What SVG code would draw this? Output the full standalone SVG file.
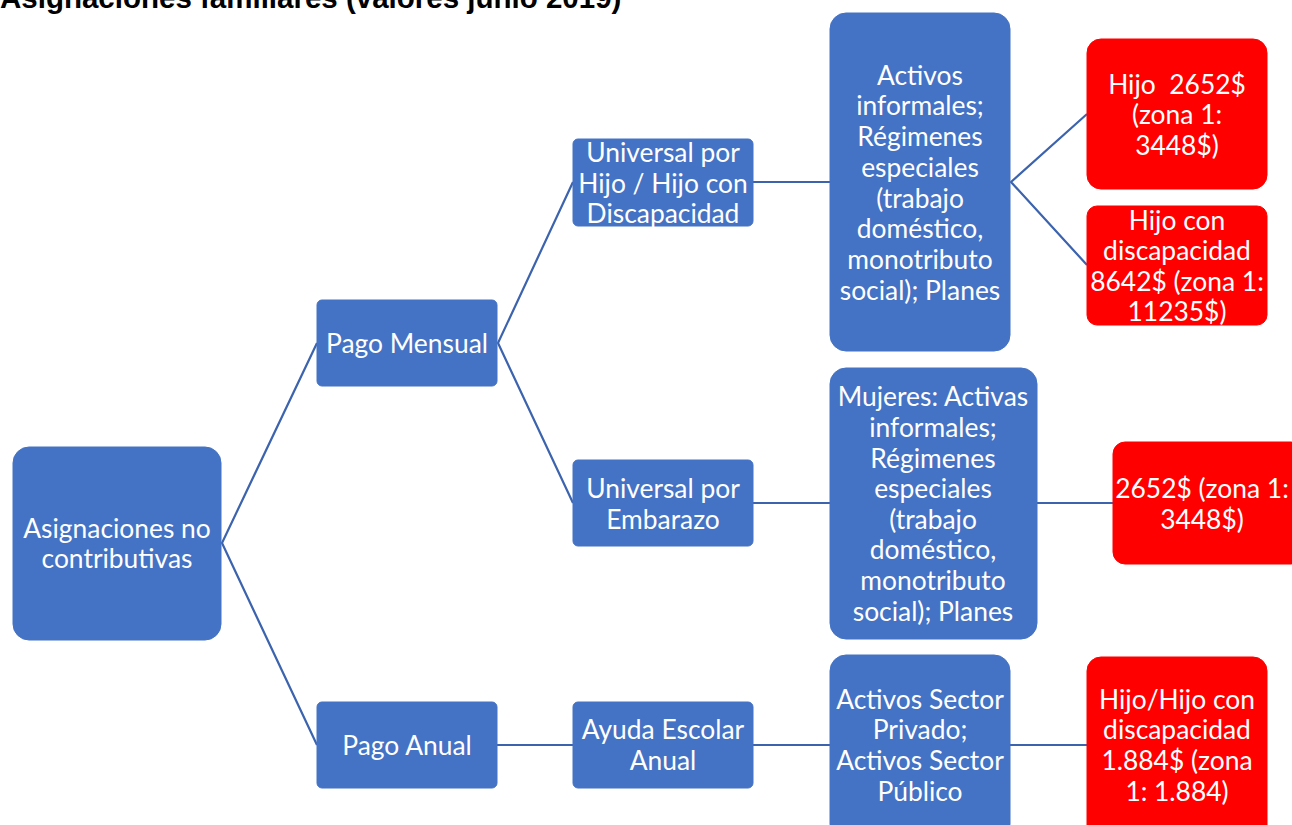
<svg xmlns="http://www.w3.org/2000/svg" width="1292" height="825" viewBox="0 0 1292 825">
<style>
.b{fill:#4472C4;stroke:#4472C4;stroke-width:1}
.r{fill:#FF0000;stroke:#FF0000;stroke-width:1}
.t{font-family:Lato,"Liberation Sans",sans-serif;font-size:26.4px;fill:#FFFFFF;text-anchor:middle}
.c{stroke:#3C63AE;stroke-width:2.2;fill:none}
.title{font-family:"Liberation Sans",Arial,sans-serif;font-weight:bold;font-size:29.5px;fill:#000}
</style>
<rect width="1292" height="825" fill="#FFFFFF"/>
<text class="title" x="0" y="8">Asignaciones familiares (valores junio 2019)</text>
<g id="connectors">
<polyline class="c" points="317,343 222,543 317,745"/>
<polyline class="c" points="573,182 498,343 573,503"/>
<line class="c" x1="497" y1="745" x2="573" y2="745"/>
<line class="c" x1="753" y1="182" x2="830" y2="182"/>
<line class="c" x1="753" y1="503" x2="830" y2="503"/>
<line class="c" x1="753" y1="745" x2="830" y2="745"/>
<polyline class="c" points="1087,114 1011,182 1087,265"/>
<line class="c" x1="1037" y1="503" x2="1113" y2="503"/>
<line class="c" x1="1010" y1="745" x2="1087" y2="745"/>
</g>
<g id="root">
<rect class="b" x="13" y="447" width="208" height="193" rx="16"/>
<text class="t"><tspan x="117" y="538">Asignaciones no</tspan><tspan x="117" y="568">contributivas</tspan></text>
</g>
<g id="pago-mensual">
<rect class="b" x="317" y="300" width="180" height="86" rx="5"/>
<text class="t"><tspan x="407" y="353">Pago Mensual</tspan></text>
</g>
<g id="pago-anual">
<rect class="b" x="317" y="702" width="180" height="86" rx="5"/>
<text class="t"><tspan x="407" y="755">Pago Anual</tspan></text>
</g>
<g id="universal-hijo">
<rect class="b" x="573" y="139" width="180" height="87" rx="5"/>
<text class="t"><tspan x="663" y="162">Universal por</tspan><tspan x="663" y="193">Hijo / Hijo con</tspan><tspan x="663" y="223">Discapacidad</tspan></text>
</g>
<g id="universal-embarazo">
<rect class="b" x="573" y="460" width="180" height="86" rx="5"/>
<text class="t"><tspan x="663" y="498">Universal por</tspan><tspan x="663" y="529">Embarazo</tspan></text>
</g>
<g id="ayuda-escolar">
<rect class="b" x="573" y="702" width="180" height="86" rx="5"/>
<text class="t"><tspan x="663" y="739">Ayuda Escolar</tspan><tspan x="663" y="770">Anual</tspan></text>
</g>
<g id="activos-informales">
<rect class="b" x="830" y="13" width="180" height="338" rx="16"/>
<text class="t"><tspan x="920" y="85">Activos</tspan><tspan x="920" y="115">informales;</tspan><tspan x="920" y="146">Régimenes</tspan><tspan x="920" y="177">especiales</tspan><tspan x="920" y="208">(trabajo</tspan><tspan x="920" y="238">doméstico,</tspan><tspan x="920" y="269">monotributo</tspan><tspan x="920" y="300">social); Planes</tspan></text>
</g>
<g id="mujeres">
<rect class="b" x="830" y="368" width="207" height="271" rx="16"/>
<text class="t"><tspan x="933" y="406">Mujeres: Activas</tspan><tspan x="933" y="437">informales;</tspan><tspan x="933" y="468">Régimenes</tspan><tspan x="933" y="498">especiales</tspan><tspan x="933" y="529">(trabajo</tspan><tspan x="933" y="559">doméstico,</tspan><tspan x="933" y="590">monotributo</tspan><tspan x="933" y="621">social); Planes</tspan></text>
</g>
<g id="activos-sector">
<rect class="b" x="830" y="655" width="180" height="185" rx="16"/>
<text class="t"><tspan x="920" y="709">Activos Sector</tspan><tspan x="920" y="739">Privado;</tspan><tspan x="920" y="770">Activos Sector</tspan><tspan x="920" y="801">Público</tspan></text>
</g>
<g id="hijo-2652">
<rect class="r" x="1087" y="39" width="180" height="150" rx="14"/>
<text class="t"><tspan x="1177" y="94">Hijo&#160; 2652$</tspan><tspan x="1177" y="124">(zona 1:</tspan><tspan x="1177" y="155">3448$)</tspan></text>
</g>
<g id="hijo-discapacidad">
<rect class="r" x="1087" y="206" width="180" height="119" rx="10"/>
<text class="t"><tspan x="1177" y="230">Hijo con</tspan><tspan x="1177" y="260">discapacidad</tspan><tspan x="1177" y="291">8642$ (zona 1:</tspan><tspan x="1177" y="321">11235$)</tspan></text>
</g>
<g id="embarazo-monto">
<rect class="r" x="1113" y="442" width="190" height="122" rx="12"/>
<text class="t"><tspan x="1202" y="498">2652$ (zona 1:</tspan><tspan x="1202" y="529">3448$)</tspan></text>
</g>
<g id="ayuda-monto">
<rect class="r" x="1087" y="657" width="180" height="185" rx="14"/>
<text class="t"><tspan x="1177" y="709">Hijo/Hijo con</tspan><tspan x="1177" y="739">discapacidad</tspan><tspan x="1177" y="770">1.884$ (zona</tspan><tspan x="1177" y="801">1: 1.884)</tspan></text>
</g>
</svg>
